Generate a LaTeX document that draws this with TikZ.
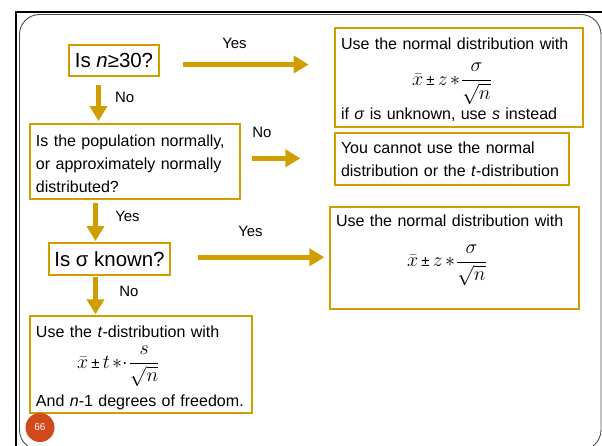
\RequirePackage{fix-cm}
\documentclass[tikz,border=0pt]{standalone}
\usepackage{fontspec}
\setmainfont{Liberation Sans}
\usetikzlibrary{arrows.meta}
\definecolor{flowgold}{RGB}{208,158,0}
\definecolor{pagered}{RGB}{210,74,28}
\newcommand{\boxfont}{\fontsize{16.1}{23.5}\selectfont\lineskiplimit=-100pt\lineskip=0pt}
\newcommand{\askfont}{\fontsize{20.5}{24}\selectfont}
\newcommand{\lblfont}{\fontsize{15}{18}\selectfont}
\newcommand{\formula}[1]{{\fontsize{20}{23.5}\selectfont$\displaystyle #1$}}
\newcommand{\pmsign}{\mkern3mu\mbox{\fontsize{15}{23.5}\selectfont ±}\mkern3mu}
\newcommand{\topstrut}[1]{\rule{0pt}{#1}}
\begin{document}
\begin{tikzpicture}
  [x=1bp,y=-1bp,
   box/.style={draw=flowgold, line width=1.3bp, fill=white, inner xsep=6bp, inner ysep=0pt, align=left, font=\boxfont},
   ask/.style={draw=flowgold, line width=1.3bp, fill=white, inner sep=0pt, align=center, font=\askfont},
   flow/.style={draw=flowgold, line width=5.5bp, -{Triangle[length=15bp,width=17bp]}},
   lbl/.style={inner sep=0pt, font=\lblfont}]
  \useasboundingbox (0,0) rectangle (602,446);
  \clip (0,0) rectangle (602,446);
  \draw[line width=2.2bp] (16,446) -- (16,12) -- (602,12);
  \draw[black!70, line width=.9bp, rounded corners=20bp] (19.5,14.5) rectangle (601,450);

  \node[ask, minimum width=90bp, minimum height=31bp] (n1) at (114,60.5) {Is \textit{n}≥30?};
  \node[box, text width=236bp, minimum height=99bp] (n2) at (459,77.5)
    {\topstrut{16bp}Use the normal distribution with\\[12.5bp]
     \hspace*{71bp}\formula{\bar{x}\pmsign z\mkern2mu{\ast}\mkern1mu\frac{\sigma}{\sqrt{n}}}\\[10.5bp]
     if \textit{σ} is unknown, use \textit{s} instead};
  \node[box, text width=198bp, minimum height=75bp] (n3) at (135,161.5)
    {\topstrut{16bp}Is the population normally,\\or approximately normally\\distributed?};
  \node[box, text width=222bp, minimum height=52bp] (n4) at (452,159)
    {You cannot use the normal\\distribution or the \textit{t}-distribution};
  \node[ask, minimum width=121bp, minimum height=32bp] (n5) at (109.5,259) {Is σ known?};
  \node[box, text width=237bp, minimum height=102bp] (n6) at (454.5,258)
    {Use the normal distribution with\\[16.5bp]
     \hspace*{71bp}\formula{\bar{x}\pmsign z\mkern2mu{\ast}\mkern1mu\frac{\sigma}{\sqrt{n}}}\\[10.4bp]\mbox{}};
  \node[box, inner xsep=4bp, text width=214bp, minimum height=97bp] (n7) at (141,364.5)
    {\topstrut{18bp}\hspace*{2bp}Use the \textit{t}-distribution with\\[7.5bp]
     \hspace*{43bp}\formula{\bar{x}\pmsign t\mkern2mu{\ast}{\cdot}\mkern1mu\frac{s}{\sqrt{n}}}\\[15bp]
     \hspace*{2bp}And \textit{n}-1 degrees of freedom.};

  \coordinate (a1) at (183,64.5);
  \coordinate (a2) at (98.5,85);
  \coordinate (a3) at (251.7,158.3);
  \coordinate (a4) at (95.5,203);
  \coordinate (a5) at (197.7,257.3);
  \coordinate (a6) at (95.5,277.3);
  \draw[flow, shorten >=25.7bp] (a1) -- (a1 -| n2.west);
  \draw[flow, shorten >=2.3bp] (a2) -- (a2 |- n3.north);
  \draw[flow, shorten >=34bp] (a3) -- (a3 -| n4.west);
  \draw[flow, shorten >=1.3bp] (a4) -- (a4 |- n5.north);
  \draw[flow, shorten >=5bp] (a5) -- (a5 -| n6.west);
  \draw[flow, shorten >=1bp] (a6) -- (a6 |- n7.north);

  \node[lbl] (y1) at (234.5,43.5) {Yes};
  \node[lbl] (m1) at (124.7,97.5) {No};
  \node[lbl] (m2) at (262,132) {No};
  \node[lbl] (y2) at (127.5,216) {Yes};
  \node[lbl] (y3) at (250.5,231) {Yes};
  \node[lbl] (m3) at (129,291) {No};

  \node[circle, fill=pagered, minimum size=29bp, inner sep=0pt, text=white, font=\fontsize{10}{12}\selectfont] (pg) at (40,427.5) {66};
\end{tikzpicture}
\end{document}
